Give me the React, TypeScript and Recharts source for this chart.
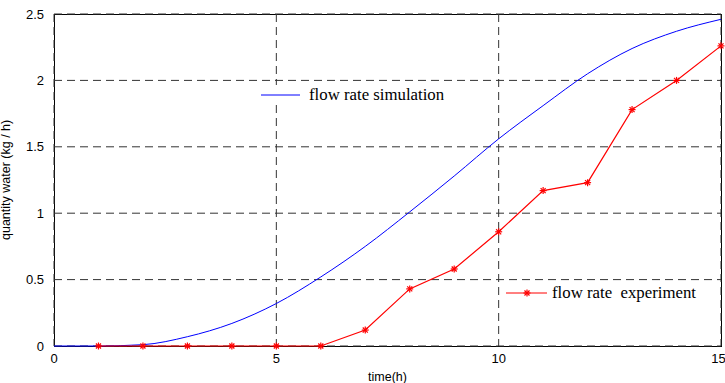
import React from 'react';
import { LineChart, Line, XAxis, YAxis, CartesianGrid } from 'recharts';

const simTime = [0, 1, 2, 3, 4, 5, 6, 7, 8, 9, 10, 11, 12, 13, 14, 15];
const simFlow = [0, 0, 0.01, 0.07, 0.17, 0.32, 0.52, 0.75, 1.01, 1.28, 1.56, 1.81, 2.05, 2.24, 2.37, 2.46];
const expTime = [1, 2, 3, 4, 5, 6, 7, 8, 9, 10, 11, 12, 13, 14, 15];
const expFlow = [0, 0, 0, 0, 0, 0, 0.12, 0.43, 0.58, 0.86, 1.17, 1.23, 1.78, 2.0, 2.26];
const xTicks = [0, 5, 10, 15];
const yTicks = [0, 0.5, 1, 1.5, 2, 2.5];

const simData = simTime.map((t, i) => ({ t, v: simFlow[i] }));
const expData = expTime.map((t, i) => ({ t, v: expFlow[i] }));

const Star = (props: any) => {
  const { cx, cy } = props;
  if (cx == null || cy == null) return null;
  const r = 3.5;
  const d = r * 0.72;
  return (
    <g stroke="#ff0000" strokeWidth={1.2}>
      <line x1={cx - r} y1={cy} x2={cx + r} y2={cy} />
      <line x1={cx} y1={cy - r} x2={cx} y2={cy + r} />
      <line x1={cx - d} y1={cy - d} x2={cx + d} y2={cy + d} />
      <line x1={cx - d} y1={cy + d} x2={cx + d} y2={cy - d} />
    </g>
  );
};

const serif = '"Liberation Serif", "Times New Roman", serif';
const sans = '"Liberation Sans", Arial, sans-serif';

export default function App() {
  return (
    <div style={{ position: 'absolute', left: 0, top: 0, width: 725, height: 383, background: '#fff' }}>
      <div style={{ position: 'absolute', left: 54, top: 14, width: 666, height: 331, border: '1px solid #000' }} />
      <div style={{ position: 'absolute', left: 0, top: 0 }}>
        <LineChart width={725} height={383} margin={{ top: 14, right: 4, bottom: 12, left: 14 }}>
          <CartesianGrid stroke="#333" strokeDasharray="8 5" strokeWidth={1} />
          <XAxis
            type="number"
            dataKey="t"
            domain={[0, 15]}
            ticks={xTicks}
            tickLine={false}
            axisLine={false}
            tick={{ fill: '#000', fontSize: 13, fontFamily: sans }}
            tickMargin={2}
            height={25}
            label={{ value: 'time(h)', position: 'insideBottom', offset: -10, fill: '#000', fontSize: 12.5, fontFamily: sans }}
          />
          <YAxis
            type="number"
            domain={[0, 2.5]}
            ticks={yTicks}
            tickLine={false}
            axisLine={false}
            tick={{ fill: '#000', fontSize: 13, fontFamily: sans }}
            tickMargin={4}
            width={40}
            label={{ value: 'quantity water (kg / h)', angle: -90, position: 'insideLeft', offset: -8, dy: 60, fill: '#000', fontSize: 12.5, fontFamily: sans }}
          />
          <Line data={simData} dataKey="v" type="monotone" stroke="#0000ff" strokeWidth={1} dot={false} isAnimationActive={false} />
          <Line data={expData} dataKey="v" type="linear" stroke="#ff0000" strokeWidth={1.2} dot={<Star />} isAnimationActive={false} />
        </LineChart>
      </div>
      <div style={{ position: 'absolute', left: 261, top: 85, display: 'flex', alignItems: 'center', background: '#fff', paddingRight: 4 }}>
        <svg width={40} height={18}><line x1={0} y1={9} x2={39} y2={9} stroke="#0000ff" strokeWidth={1} /></svg>
        <span style={{ fontFamily: serif, fontSize: 16.8, marginLeft: 8, color: '#000', whiteSpace: 'pre' }}>flow rate simulation</span>
      </div>
      <div style={{ position: 'absolute', left: 506, top: 283, display: 'flex', alignItems: 'center', background: '#fff', paddingRight: 4 }}>
        <svg width={42} height={18}>
          <line x1={0} y1={9} x2={41} y2={9} stroke="#ff0000" strokeWidth={1} />
          <Star cx={21} cy={9} />
        </svg>
        <span style={{ fontFamily: serif, fontSize: 16.8, marginLeft: 4, color: '#000', whiteSpace: 'pre' }}>flow rate  experiment</span>
      </div>
    </div>
  );
}
